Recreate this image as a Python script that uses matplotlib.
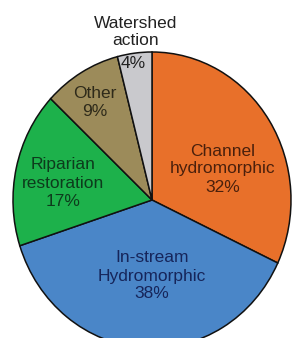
import matplotlib
matplotlib.use("Agg")
import matplotlib.pyplot as plt

plt.rcParams['font.family'] = ['Liberation Sans', 'DejaVu Sans']

# slices, clockwise from 12 o'clock
categories = ["Channel\nhydromorphic", "In-stream\nHydromorphic", "Riparian\nrestoration",
              "Other", "Watershed\naction"]
shares = [32, 38, 17, 9, 4]
colors = ["#E8702A", "#4A86C8", "#1DB14B", "#9C8B5A", "#C9C9CD"]
text_colors = ["#4a200c", "#16255a", "#0d3b1c", "#2e2a1a", "#222222"]

# label centres in pixel coordinates of the 292x338 image
label_pos = [(223, 169), (152, 276), (63, 183), (95, 103), (136, 32)]

W, H = 292, 338
cx, cy, rx, ry = 152, 200, 139, 148

fig = plt.figure(figsize=(W / 100, H / 100), dpi=100)
ax = fig.add_axes([(cx - rx) / W, (H - cy - ry) / H, 2 * rx / W, 2 * ry / H])
ax.pie(shares, colors=colors, startangle=90, counterclock=False,
       wedgeprops=dict(edgecolor="#111111", linewidth=1.1))
ax.set_aspect('auto')
ax.set_xlim(-1, 1)
ax.set_ylim(-1, 1)
ax.axis('off')

fs = 12.5
for cat, val, (px, py), tc in zip(categories, shares, label_pos, text_colors):
    if cat.startswith("Watershed"):
        # name sits above the pie, the share inside the thin grey slice
        fig.text(px / W, 1 - py / H, cat, ha='center', va='center', fontsize=fs,
                 color=tc, linespacing=1.2)
        fig.text(133 / W, 1 - 64 / H, f"{val}%", ha='center', va='center',
                 fontsize=fs, color=tc)
    else:
        fig.text(px / W, 1 - py / H, f"{cat}\n{val}%", ha='center', va='center',
                 fontsize=fs, color=tc, linespacing=1.25)

fig.savefig("out.png", dpi=100)
